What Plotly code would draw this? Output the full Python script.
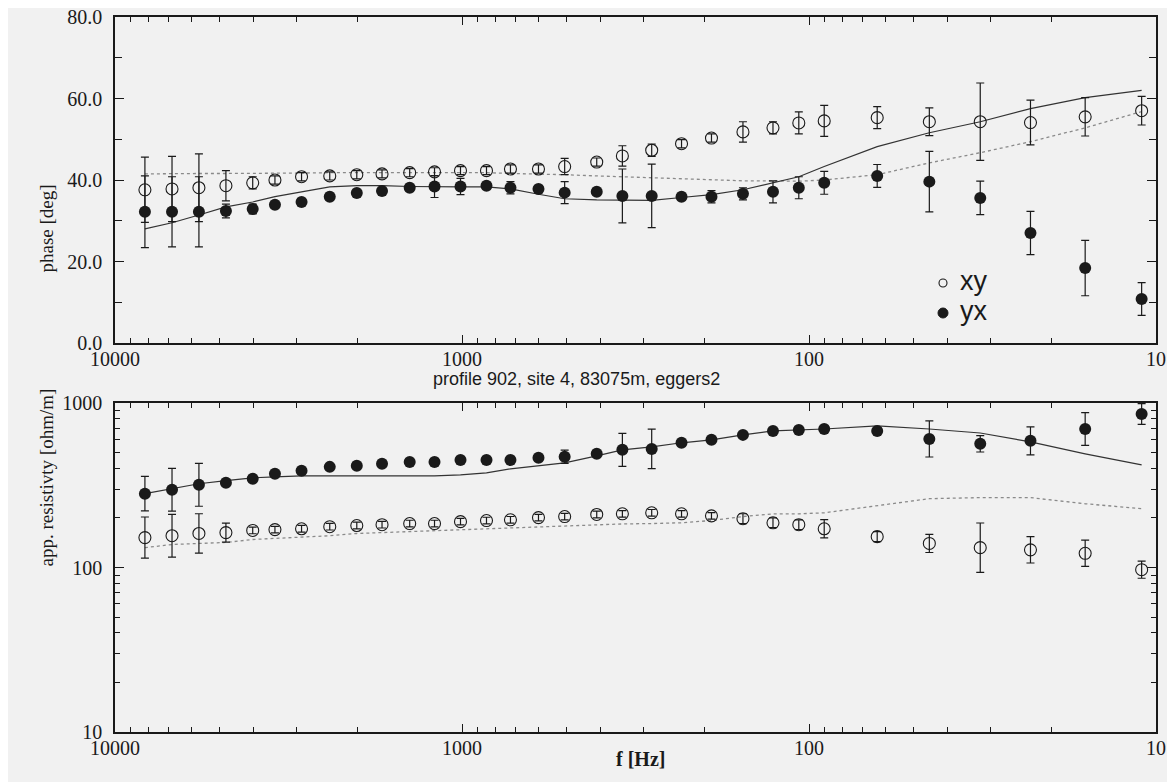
import plotly.graph_objects as go

# page is 1175x782, the browser body adds an 8px margin, so the figure is
# slightly smaller and all layout positions are given in page pixels minus 8
OFF = 8
W, H = 1175 - OFF, 782 - OFF

# ---------------- data ----------------
freq = [8200, 6850, 5730, 4790, 4010, 3460, 2900, 2405, 2010, 1700,
        1415, 1200, 1010, 850, 725, 602, 506, 409, 345, 284,
        233, 191, 155, 127, 107, 90.4, 63.6, 45.0, 32.1, 23.0, 16.0, 11.0]

phase_xy = [37.6, 37.8, 38.1, 38.6, 39.3, 40.0, 40.8, 41.0, 41.3, 41.5,
            41.8, 42.0, 42.3, 42.3, 42.7, 42.7, 43.3, 44.4, 45.9, 47.3,
            48.9, 50.3, 51.8, 52.8, 54.0, 54.5, 55.3, 54.3, 54.3, 54.1, 55.5, 57.0]
phase_xy_err = [8.0, 8.0, 8.3, 3.7, 1.5, 1.0, 1.0, 1.0, 1.0, 1.0,
                1.0, 1.0, 1.0, 1.0, 1.0, 1.0, 2.0, 1.0, 2.5, 1.5,
                1.0, 1.0, 2.5, 1.5, 2.7, 3.8, 2.7, 3.4, 9.5, 5.5, 4.7, 3.5]

phase_yx = [32.2, 32.2, 32.2, 32.4, 32.9, 33.9, 34.6, 35.9, 36.8, 37.3,
            38.1, 38.4, 38.4, 38.6, 38.1, 37.8, 36.9, 37.1, 36.1, 36.1,
            35.9, 35.9, 36.6, 37.1, 38.1, 39.3, 41.0, 39.6, 35.6, 27.0, 18.4, 10.8]
phase_yx_err = [8.8, 8.6, 8.6, 1.7, 1.2, 0.8, 0.8, 0.8, 0.8, 0.8,
                0.8, 2.7, 2.0, 0.8, 1.5, 0.8, 2.7, 0.8, 6.6, 7.8,
                0.8, 1.5, 1.5, 2.7, 2.7, 2.8, 2.8, 7.4, 4.1, 5.3, 6.8, 4.0]

# model curves (phase)
phase_model_solid = [28.0, 29.5, 31.4, 33.4, 34.6, 35.9, 37.1, 38.3, 38.6, 38.6,
                     38.4, 38.3, 38.3, 38.3, 37.8, 36.5, 35.4, 35.1, 35.0, 35.0,
                     35.7, 36.4, 37.6, 39.3, 40.8, 43.3, 48.2, 51.6, 54.3, 57.5, 60.2, 62.0]
phase_model_dot = [41.5, 41.6, 41.6, 41.6, 41.6, 41.7, 41.7, 41.8, 41.8, 41.8,
                   41.8, 41.8, 41.8, 41.8, 41.6, 41.5, 41.3, 41.0, 40.8, 40.6,
                   40.3, 40.0, 39.8, 39.8, 39.7, 40.0, 41.3, 44.2, 46.7, 49.4, 52.8, 56.8]

rho_xy = [152, 156, 161, 163, 168, 170, 172, 177, 180, 182,
          185, 185, 190, 193, 195, 201, 204, 210, 212, 215,
          212, 206, 198, 187, 182, 172, 154, 140, 132, 128, 122, 97]
rho_xy_dlog = [0.125, 0.13, 0.12, 0.058, 0.02, 0.02, 0.02, 0.02, 0.02, 0.02,
               0.02, 0.02, 0.02, 0.02, 0.02, 0.02, 0.02, 0.02, 0.02, 0.02,
               0.02, 0.02, 0.03, 0.03, 0.03, 0.055, 0.03, 0.055, 0.15, 0.08, 0.08, 0.052]

rho_yx = [281, 297, 318, 327, 346, 371, 387, 409, 415, 427,
          438, 438, 451, 451, 451, 464, 471, 491, 519, 526,
          573, 597, 640, 676, 686, 695, 676, 605, 565, 589, 695, 857]
rho_yx_dlog = [0.105, 0.13, 0.13, 0.01, 0.01, 0.01, 0.01, 0.01, 0.01, 0.01,
               0.01, 0.02, 0.01, 0.01, 0.01, 0.01, 0.04, 0.01, 0.10, 0.12,
               0.01, 0.01, 0.01, 0.015, 0.02, 0.02, 0.02, 0.11, 0.05, 0.085, 0.10, 0.063]

# model curves (resistivity)
rho_model_solid = [281, 301, 323, 337, 351, 356, 361, 361, 361, 361,
                   361, 361, 366, 376, 398, 415, 433, 477, 519, 541,
                   573, 597, 640, 676, 686, 695, 726, 695, 657, 580, 491, 421]
rho_model_dot = [132, 138, 140, 142, 148, 150, 152, 156, 161, 163,
                 165, 168, 170, 172, 175, 177, 178, 182, 184, 185,
                 187, 193, 204, 212, 212, 215, 238, 262, 266, 266, 244, 228]

x_ticks = [10000, 1000, 100, 10]
x_ticktext = ["10000", "1000", "100", "10"]
phase_ticks = [0, 20, 40, 60, 80]
rho_ticks = [10, 100, 1000]

# ---------------- styling ----------------
BG = "#f1f1f1"
INK = "#1a1a1a"
TSERIF = "Liberation Serif"
SANS = "Liberation Sans"

def px(x):
    return (x - OFF) / W

def py(y):
    return 1 - (y - OFF) / H

x_minor = [m * 10 ** e for e in range(1, 4) for m in range(2, 10)]
rho_minor = [m * 10 ** e for e in range(1, 3) for m in range(2, 10)]

fig = go.Figure()

# top panel: model curves
fig.add_trace(go.Scatter(x=freq, y=phase_model_dot, mode="lines", xaxis="x", yaxis="y",
                         line=dict(color="#8a8a8a", width=1.3, dash="dot"), showlegend=False))
fig.add_trace(go.Scatter(x=freq, y=phase_model_solid, mode="lines", xaxis="x", yaxis="y",
                         line=dict(color="#333333", width=1.2), showlegend=False))
# top panel: data
fig.add_trace(go.Scatter(x=freq, y=phase_xy, mode="markers", xaxis="x", yaxis="y",
                         marker=dict(symbol="circle-open", size=12, color=INK, line=dict(width=1.1, color=INK)),
                         error_y=dict(type="data", array=phase_xy_err, color=INK, thickness=1.2, width=4),
                         showlegend=False))
fig.add_trace(go.Scatter(x=freq, y=phase_yx, mode="markers", xaxis="x", yaxis="y",
                         marker=dict(symbol="circle", size=12, color=INK),
                         error_y=dict(type="data", array=phase_yx_err, color=INK, thickness=1.2, width=4),
                         showlegend=False))

# bottom panel: model curves
fig.add_trace(go.Scatter(x=freq, y=rho_model_dot, mode="lines", xaxis="x2", yaxis="y2",
                         line=dict(color="#8a8a8a", width=1.3, dash="dot"), showlegend=False))
fig.add_trace(go.Scatter(x=freq, y=rho_model_solid, mode="lines", xaxis="x2", yaxis="y2",
                         line=dict(color="#333333", width=1.2), showlegend=False))

def log_err(vals, dl):
    up = [v * (10 ** d) - v for v, d in zip(vals, dl)]
    dn = [v - v / (10 ** d) for v, d in zip(vals, dl)]
    return up, dn

xy_up, xy_dn = log_err(rho_xy, rho_xy_dlog)
yx_up, yx_dn = log_err(rho_yx, rho_yx_dlog)

fig.add_trace(go.Scatter(x=freq, y=rho_xy, mode="markers", xaxis="x2", yaxis="y2",
                         marker=dict(symbol="circle-open", size=12, color=INK, line=dict(width=1.1, color=INK)),
                         error_y=dict(type="data", symmetric=False, array=xy_up, arrayminus=xy_dn,
                                      color=INK, thickness=1.2, width=4),
                         showlegend=False))
fig.add_trace(go.Scatter(x=freq, y=rho_yx, mode="markers", xaxis="x2", yaxis="y2",
                         marker=dict(symbol="circle", size=12, color=INK),
                         error_y=dict(type="data", symmetric=False, array=yx_up, arrayminus=yx_dn,
                                      color=INK, thickness=1.2, width=4),
                         showlegend=False))

xdom = [px(115), px(1156)]
common_x = dict(type="log", range=[4, 1], domain=xdom, showline=True, linecolor=INK, linewidth=1.5,
                mirror="ticks", ticks="inside", ticklen=8, tickwidth=1.2, tickcolor=INK,
                tickvals=x_ticks, ticktext=x_ticktext, showgrid=False, zeroline=False,
                automargin=False, ticklabelstandoff=-3, ticklabeloverflow="allow",
                tickfont=dict(family=TSERIF, size=20, color=INK),
                minor=dict(tickvals=x_minor, ticks="inside", ticklen=5, tickwidth=1, tickcolor=INK, showgrid=False))

fig.update_layout(
    width=W, height=H,
    margin=dict(l=0, r=0, t=0, b=0),
    paper_bgcolor=BG, plot_bgcolor=BG,
    showlegend=False,
    xaxis=dict(common_x, anchor="y"),
    yaxis=dict(domain=[py(343), py(17)], range=[0, 80], anchor="x", automargin=False,
               showline=True, linecolor=INK, linewidth=1.5, mirror="ticks",
               ticks="inside", ticklen=9, tickwidth=1.2, tickcolor=INK,
               tickvals=phase_ticks, tickformat=".1f", showgrid=False, zeroline=False,
               ticklabelstandoff=7, ticklabeloverflow="allow",
               tickfont=dict(family=TSERIF, size=20, color=INK),
               minor=dict(dtick=10, ticks="inside", ticklen=7, tickwidth=1, tickcolor=INK, showgrid=False)),
    xaxis2=dict(common_x, anchor="y2"),
    yaxis2=dict(domain=[py(732), py(403)], type="log", range=[1, 3], anchor="x2", automargin=False,
                showline=True, linecolor=INK, linewidth=1.5, mirror="ticks",
                ticks="inside", ticklen=9, tickwidth=1.2, tickcolor=INK,
                tickvals=rho_ticks, ticktext=["10", "100", "1000"], showgrid=False, zeroline=False,
                ticklabelstandoff=7, ticklabeloverflow="allow",
                tickfont=dict(family=TSERIF, size=20, color=INK),
                minor=dict(tickvals=rho_minor, ticks="inside", ticklen=5, tickwidth=1, tickcolor=INK, showgrid=False)),
)

annotations = [
    dict(text="phase [deg]", x=px(33), y=py(183), textangle=-90,
         font=dict(family=TSERIF, size=19, color=INK)),
    dict(text="app. resistivty [ohm/m]", x=px(33), y=py(569), textangle=-90,
         font=dict(family=TSERIF, size=19, color=INK)),
    dict(text="profile 902, site 4, 83075m, eggers2", x=px(576), y=py(379),
         font=dict(family=SANS, size=18, color=INK)),
    dict(text="<b>f [Hz]</b>", x=px(640), y=py(772),
         font=dict(family=TSERIF, size=20, color=INK)),
    dict(text="xy", x=px(958), y=py(281), xanchor="left",
         font=dict(family=SANS, size=27, color=INK)),
    dict(text="yx", x=px(958), y=py(311), xanchor="left",
         font=dict(family=SANS, size=27, color=INK)),
]
for a in annotations:
    a.setdefault("xref", "paper")
    a.setdefault("yref", "paper")
    a.setdefault("showarrow", False)
fig.update_layout(annotations=annotations)

# legend symbols
fig.add_shape(type="circle", xref="paper", yref="paper",
              x0=px(939), x1=px(947), y0=py(287), y1=py(279),
              line=dict(color=INK, width=1.1), fillcolor="rgba(0,0,0,0)")
fig.add_shape(type="circle", xref="paper", yref="paper",
              x0=px(938), x1=px(948), y0=py(318), y1=py(308),
              line=dict(color=INK, width=1), fillcolor=INK)

fig.write_html("out.html")
